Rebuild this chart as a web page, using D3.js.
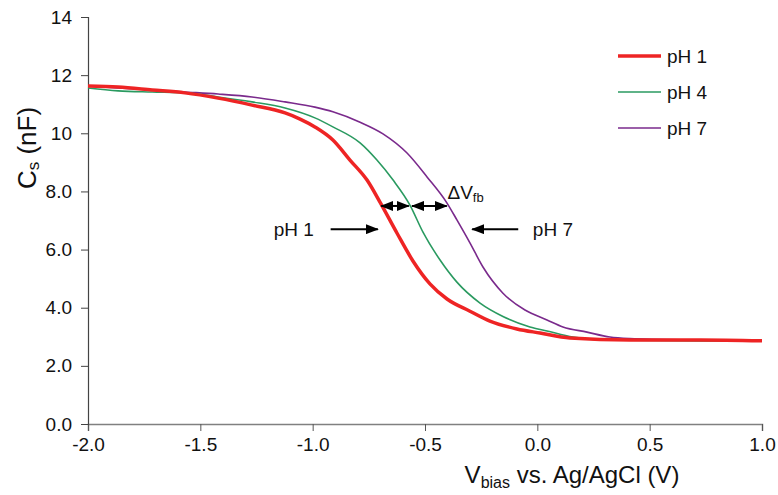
<!DOCTYPE html>
<html>
<head>
<meta charset="utf-8">
<script src="https://cdn.jsdelivr.net/npm/d3@7"></script>
<style>
  body { margin: 0; background: #fff; }
  svg { font-family: "Liberation Sans", Arial, sans-serif; }
</style>
</head>
<body>
<div id="chart"></div>
<script>
// bias voltage (V) and capacitance (nF)
const ph1X = [-2.0, -1.866, -1.715, -1.568, -1.421, -1.27, -1.123, -1.056, -0.99, -0.91, -0.834, -0.758, -0.696, -0.625, -0.553, -0.478, -0.402, -0.3, -0.211, -0.091, 0.012, 0.145, 0.412, 0.724, 1.0];
const ph1Y = [11.63, 11.59, 11.49, 11.39, 11.21, 10.97, 10.7, 10.49, 10.22, 9.77, 9.08, 8.39, 7.57, 6.57, 5.6, 4.82, 4.3, 3.88, 3.54, 3.27, 3.13, 2.96, 2.89, 2.89, 2.86];

const ph4X = [-2.0, -1.866, -1.715, -1.568, -1.421, -1.27, -1.123, -0.99, -0.91, -0.789, -0.714, -0.642, -0.567, -0.509, -0.433, -0.358, -0.255, -0.153, -0.033, 0.043, 0.159, 0.292, 0.724, 1.0];
const ph4Y = [11.56, 11.46, 11.42, 11.39, 11.25, 11.08, 10.87, 10.53, 10.22, 9.67, 9.08, 8.39, 7.53, 6.6, 5.64, 4.88, 4.16, 3.7, 3.34, 3.2, 2.99, 2.89, 2.86, 2.86];

const ph7X = [-2.0, -1.866, -1.715, -1.568, -1.421, -1.27, -1.123, -0.99, -0.91, -0.789, -0.687, -0.58, -0.491, -0.402, -0.358, -0.3, -0.242, -0.153, -0.055, 0.043, 0.114, 0.221, 0.323, 0.412, 0.724, 1.0];
const ph7Y = [11.63, 11.56, 11.49, 11.42, 11.35, 11.25, 11.08, 10.9, 10.74, 10.38, 9.98, 9.32, 8.5, 7.6, 7.02, 6.23, 5.4, 4.5, 3.92, 3.58, 3.34, 3.16, 2.99, 2.94, 2.89, 2.86];

const seriesNames = ["pH 1", "pH 4", "pH 7"];
const xTicks = [-2.0, -1.5, -1.0, -0.5, 0.0, 0.5, 1.0];
const yTicks = [0, 2, 4, 6, 8, 10, 12, 14];

const width = 778, height = 495;
const margin = { top: 17, right: 16, bottom: 71, left: 88 };

const svg = d3.select("#chart").append("svg")
    .attr("width", width)
    .attr("height", height);

const x = d3.scaleLinear().domain([-2, 1]).range([margin.left, width - margin.right]);
const y = d3.scaleLinear().domain([0, 14]).range([height - margin.bottom, margin.top]);

// axes (plain hyphen for negatives, like the original)
const xAxis = svg.append("g")
    .attr("transform", `translate(0,${y(0)})`)
    .call(d3.axisBottom(x).tickValues(xTicks).tickSize(7).tickPadding(7).tickFormat(d => d.toFixed(1)));
xAxis.select(".domain").attr("stroke", "#808080").attr("stroke-width", 1.5);
xAxis.selectAll(".tick line").attr("stroke", "#555");
xAxis.selectAll("text").attr("font-size", 19).attr("fill", "#111");

const yAxis = svg.append("g")
    .attr("transform", `translate(${x(-2)},0)`)
    .call(d3.axisLeft(y).tickValues(yTicks).tickSize(7).tickPadding(9)
        .tickFormat(d => d >= 10 ? String(d) : d.toFixed(1)));
yAxis.select(".domain").attr("stroke", "#444").attr("stroke-width", 1.2);
yAxis.selectAll(".tick line").attr("stroke", "#444");
yAxis.selectAll("text").attr("font-size", 19).attr("fill", "#111");

// axis titles
const yTitle = svg.append("text")
    .attr("transform", "translate(36,148) rotate(-90)")
    .attr("text-anchor", "middle")
    .attr("font-size", 26)
    .attr("fill", "#111");
yTitle.append("tspan").text("C");
yTitle.append("tspan").attr("font-size", 17).attr("dy", 3).text("s");
yTitle.append("tspan").attr("dy", -3).text(" (nF)");

const xTitle = svg.append("text")
    .attr("x", 572)
    .attr("y", 483)
    .attr("text-anchor", "middle")
    .attr("font-size", 24)
    .attr("fill", "#111");
xTitle.append("tspan").text("V");
xTitle.append("tspan").attr("font-size", 16).attr("dy", 5).text("bias");
xTitle.append("tspan").attr("dy", -5).text(" vs. Ag/AgCl (V)");

// curves
const series = [
    { name: seriesNames[0], xs: ph1X, ys: ph1Y, color: "#ee2424", w: 3.5 },
    { name: seriesNames[1], xs: ph4X, ys: ph4Y, color: "#2a9a60", w: 1.6 },
    { name: seriesNames[2], xs: ph7X, ys: ph7Y, color: "#7a2a8c", w: 1.6 }
];

const line = d3.line()
    .x(d => x(d[0]))
    .y(d => y(d[1]))
    .curve(d3.curveMonotoneX);

// draw purple and green first so red sits on top
[series[2], series[1], series[0]].forEach(s => {
    svg.append("path")
        .datum(s.xs.map((v, i) => [v, s.ys[i]]))
        .attr("fill", "none")
        .attr("stroke", s.color)
        .attr("stroke-width", s.w)
        .attr("stroke-linejoin", "round")
        .attr("d", line);
});

// legend
const legend = svg.append("g").attr("transform", "translate(618,56)");
series.forEach((s, i) => {
    const g = legend.append("g").attr("transform", `translate(0,${i * 36})`);
    g.append("line")
        .attr("x1", 0).attr("x2", 43)
        .attr("stroke", s.color)
        .attr("stroke-width", s.w);
    g.append("text")
        .attr("x", 49).attr("y", 7)
        .attr("font-size", 19)
        .attr("fill", "#111")
        .text(s.name);
});

// annotation arrows
const defs = svg.append("defs");
defs.append("marker")
    .attr("id", "head")
    .attr("viewBox", "0 0 13 10")
    .attr("refX", 12).attr("refY", 5)
    .attr("markerWidth", 6.5).attr("markerHeight", 5)
    .attr("orient", "auto-start-reverse")
    .attr("markerUnits", "strokeWidth")
    .append("path").attr("d", "M0,0 L13,5 L0,10 Z").attr("fill", "#000");

function arrow(x1, y1, x2, y2, both) {
    const a = svg.append("line")
        .attr("x1", x(x1)).attr("y1", y(y1))
        .attr("x2", x(x2)).attr("y2", y(y2))
        .attr("stroke", "#000")
        .attr("stroke-width", 2)
        .attr("marker-end", "url(#head)");
    if (both) a.attr("marker-start", "url(#head)");
}

arrow(-0.92, 6.7, -0.71, 6.7, false);
arrow(-0.085, 6.7, -0.29, 6.7, false);
arrow(-0.695, 7.5, -0.572, 7.5, true);
arrow(-0.558, 7.5, -0.403, 7.5, true);

svg.append("text")
    .attr("x", x(-0.995)).attr("y", y(6.7) + 7)
    .attr("text-anchor", "end")
    .attr("font-size", 19).attr("fill", "#111")
    .text("pH 1");
svg.append("text")
    .attr("x", x(-0.02)).attr("y", y(6.7) + 7)
    .attr("font-size", 19).attr("fill", "#111")
    .text("pH 7");

const dv = svg.append("text")
    .attr("x", x(-0.4)).attr("y", y(7.5) - 7)
    .attr("font-size", 19).attr("fill", "#111");
dv.append("tspan").text("ΔV");
dv.append("tspan").attr("font-size", 13).attr("dy", 3).text("fb");
</script>
</body>
</html>
